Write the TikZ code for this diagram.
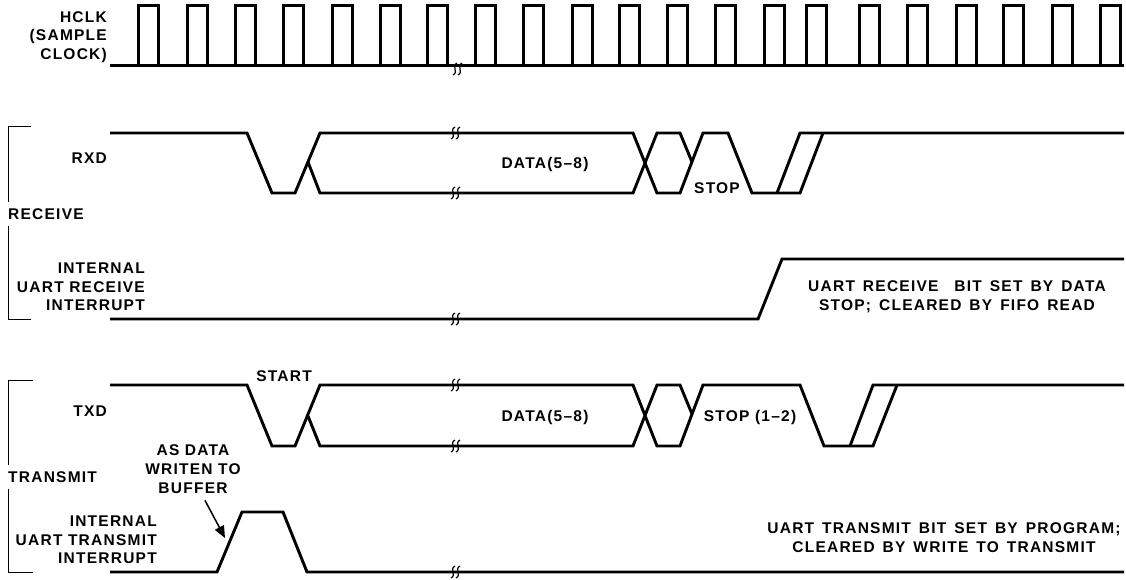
\documentclass[tikz,border=0pt]{standalone}
\usepackage{fontspec}
\setmainfont{Liberation Sans}[LetterSpace=8]
\usetikzlibrary{arrows.meta, positioning}
\newcommand{\widesp}{\spaceskip=8pt\relax}
\tikzset{
    timing/.style={x=1pt, y=-1pt, line join=miter},
    sig/.style={line width=2.9pt},
    clk/.style={line width=3pt},
    brkt/.style={line width=1pt},
    lbl/.style={inner sep=0pt, font=\fontsize{15.5}{18.7}\selectfont\bfseries},
    sname/.style={lbl, align=right, anchor=east},
    note/.style={lbl, align=center, font=\fontsize{15.5}{18.7}\selectfont\bfseries\widesp},
    % wavy mark where the time axis is cut
    cut/.style={line width=1.2pt},
}
\newcommand{\cutmark}[2]{%
  \foreach \dx in {0,5}
    \draw[cut] (#1+\dx+2,#2-6) .. controls (#1+\dx-4,#2-3) and (#1+\dx+4,#2+3) .. (#1+\dx-2,#2+6);
}

\begin{document}
\begin{tikzpicture}[timing]
    \useasboundingbox (0,0) rectangle (1126,579);

    % labels
    \node[sname] (clkname) at (107,37)  {HCLK\\(SAMPLE\\CLOCK)};
    \node[sname] (rxdname) at (107,158) {RXD};
    \node[lbl, anchor=west] (rcv) at (8,214) {RECEIVE};
    \node[sname] (rintname) at (145,287) {INTERNAL\\UART RECEIVE\\INTERRUPT};
    \node[sname] (txdname) at (107,411) {TXD};
    \node[lbl, anchor=west] (xmit) at (8,477) {TRANSMIT};
    \node[sname] (tintname) at (157,540) {INTERNAL\\UART TRANSMIT\\INTERRUPT};

    \node[lbl] (data1) at (545,164) {DATA(5--8)};
    \node[lbl] (stop1) at (717,188) {STOP};
    \node[note] (rnote) at (957,297) {UART RECEIVE\ \ BIT SET BY DATA\\STOP; CLEARED BY FIFO READ};
    \node[lbl] (start) at (284,376) {START};
    \node[lbl] (data2) at (545,417) {DATA(5--8)};
    \node[lbl] (stop2) at (750,417) {STOP (1--2)};
    \node[lbl, align=center] (asdata) at (193,469) {AS DATA\\WRITEN TO\\BUFFER};
    \node[note] (tnote) at (944,538) {UART TRANSMIT BIT SET BY PROGRAM;\\CLEARED BY WRITE TO TRANSMIT};

    % brackets
    \draw[brkt] (31,126) -| ([yshift=6pt]rcv.north west);
    \draw[brkt] ([yshift=-6pt]rcv.south west) |- (31,319);
    \draw[brkt] (33,380) -| ([yshift=6pt]xmit.north west);
    \draw[brkt] ([yshift=-6pt]xmit.south west) |- (33,572);

    % sample clock
    \draw[clk] (110,65) -- (1124,65);
    \foreach \t in {138,187,235,283,332,380,427,475,523,572,619,667,715,764,806,859,907,956,1003,1052,1100}
        \draw[clk] (\t,65) -- (\t,5) -- (\t+20,5) -- (\t+20,65);
    \cutmark{455}{69}

    % RXD
    \draw[sig] (110,133) -- (247,133) -- (272,193) -- (295,193) -- (320,133) -- (633,133)
        -- (657,193) -- (680,193) -- (703,133) -- (728,133) -- (752,193) -- (800,193) -- (823,133);
    \draw[sig] (308,162) -- (320,193) -- (633,193) -- (657,133) -- (680,133) -- (692,162);
    \draw[sig] (777,193) -- (800,133) -- (1124,133);
    \cutmark{453}{133}
    \cutmark{453}{193}

    % receive interrupt
    \draw[sig] (110,319) -- (758,319) -- (782,259) -- (1124,259);
    \cutmark{453}{319}

    % TXD
    \draw[sig] (110,385) -- (247,385) -- (272,446) -- (295,446) -- (320,385) -- (633,385)
        -- (657,446) -- (680,446) -- (703,385) -- (800,385) -- (824,446) -- (873,446) -- (897,385);
    \draw[sig] (308,416) -- (320,446) -- (633,446) -- (657,385) -- (680,385) -- (692,414);
    \draw[sig] (850,446) -- (873,385) -- (1124,385);
    \cutmark{453}{385}
    \cutmark{453}{446}

    % transmit interrupt
    \draw[sig] (110,572) -- (217,572) -- (242,512) -- (283,512) -- (307,572) -- (1124,572);
    \cutmark{453}{572}

    \coordinate (wrt) at (225,538);
    \draw[line width=1.5pt, -{Triangle[length=12pt, width=10pt]}] ([xshift=12pt, yshift=-7pt]asdata.south) -- (wrt);
\end{tikzpicture}
\end{document}
